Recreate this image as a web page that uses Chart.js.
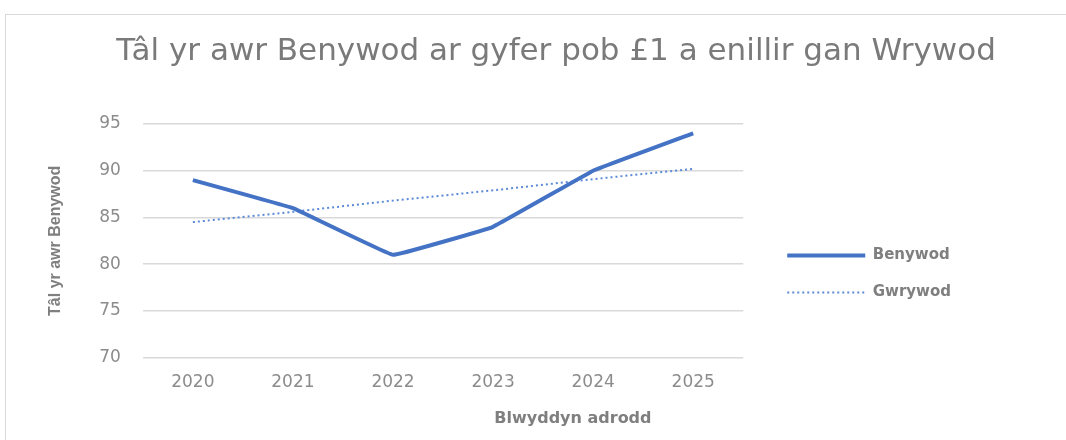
<!DOCTYPE html>
<html>
<head>
<meta charset="utf-8">
<script src="https://cdn.jsdelivr.net/npm/chart.js@4"></script>
<style>
  body { margin: 0; background: #fff; overflow: hidden; }
  #box {
    position: absolute; left: 5px; top: 14px;
    width: 1070px; height: 440px;
    border: 1px solid #d9d9d9; box-sizing: border-box;
  }
  #wrap { position: absolute; left: 0; top: 0; width: 1060px; height: 426px; }
</style>
</head>
<body>
<div id="box"><div id="wrap"><canvas id="payChart"></canvas></div></div>
<script>
// Data
const years = ["2020", "2021", "2022", "2023", "2024", "2025"];
const benywod = [89, 86, 81, 84, 90, 94];
const gwrywod = [84.5, 85.6, 86.8, 87.9, 89.1, 90.2];
const yTicks = [70, 75, 80, 85, 90, 95];

const titleText = "Tâl yr awr Benywod ar gyfer pob £1 a enillir gan Wrywod";
const xTitle = "Blwyddyn adrodd";
const yTitle = "Tâl yr awr Benywod";

const grey = "#8c8c8c";
const blue = "#4472C4";

// Excel-style placement: title and x title centred over plot + legend,
// legend pushed a bit further from the plot
const excelLayout = {
  id: "excelLayout",
  afterLayout(chart) {
    const lg = chart.legend;
    const dx = 22;
    const dy = 211 - lg.top;
    lg.left += dx; lg.right += dx;
    lg.top += dy; lg.bottom += dy;
  },
  afterDraw(chart) {
    const c = chart.ctx;
    const area = chart.chartArea;
    c.save();
    c.textAlign = "center";
    c.textBaseline = "middle";
    c.fillStyle = "#7a7a7a";
    c.font = "31px 'DejaVu Sans'";
    c.fillText(titleText, 550, 37);
    c.fillStyle = "#7f7f7f";
    c.font = "bold 16px 'DejaVu Sans'";
    c.fillText(xTitle, (area.left + chart.width - 63) / 2, chart.height - 22);
    c.restore();
  }
};

const ctx = document.getElementById("payChart").getContext("2d");
new Chart(ctx, {
  type: "line",
  data: {
    labels: years,
    datasets: [
      {
        label: "Benywod",
        data: benywod,
        borderColor: blue,
        backgroundColor: blue,
        borderWidth: 4,
        pointRadius: 0,
        tension: 0.05
      },
      {
        label: "Gwrywod",
        data: gwrywod,
        borderColor: "#5b8ad6",
        backgroundColor: "#5b8ad6",
        borderWidth: 2,
        borderDash: [2, 3],
        pointRadius: 0
      }
    ]
  },
  options: {
    responsive: true,
    maintainAspectRatio: false,
    animation: false,
    layout: { padding: { left: 40, right: 127, top: 109, bottom: 41 } },
    plugins: {
      title: { display: false },
      legend: {
        position: "right",
        align: "start",
        labels: {
          usePointStyle: true,
          pointStyle: "line",
          pointStyleWidth: 78,
          padding: 22,
          color: "#7f7f7f",
          font: { family: "'DejaVu Sans'", size: 15, weight: "bold" },
          generateLabels(chart) {
            const items = Chart.defaults.plugins.legend.labels.generateLabels(chart);
            items.forEach((item, i) => {
              const ds = chart.data.datasets[i];
              item.lineDash = ds.borderDash || [];
              item.lineWidth = ds.borderWidth;
              item.strokeStyle = ds.borderColor;
            });
            return items;
          }
        }
      },
      tooltip: { enabled: false }
    },
    scales: {
      x: {
        offset: true,
        grid: { display: false },
        border: { display: false },
        ticks: {
          color: grey,
          padding: 7,
          font: { family: "'DejaVu Sans'", size: 17 }
        }
      },
      y: {
        min: 70,
        max: 95,
        afterBuildTicks(axis) {
          axis.ticks = yTicks.map(v => ({ value: v }));
        },
        grid: { color: "#d9d9d9", lineWidth: 1.5, drawTicks: false },
        border: { display: false },
        ticks: {
          color: grey,
          padding: 22,
          font: { family: "'DejaVu Sans'", size: 17 }
        },
        title: {
          display: true,
          text: yTitle,
          color: "#7f7f7f",
          font: { family: "'Liberation Sans'", size: 16, weight: "bold" },
          padding: { top: 0, bottom: 12 }
        }
      }
    }
  },
  plugins: [excelLayout]
});
</script>
</body>
</html>
